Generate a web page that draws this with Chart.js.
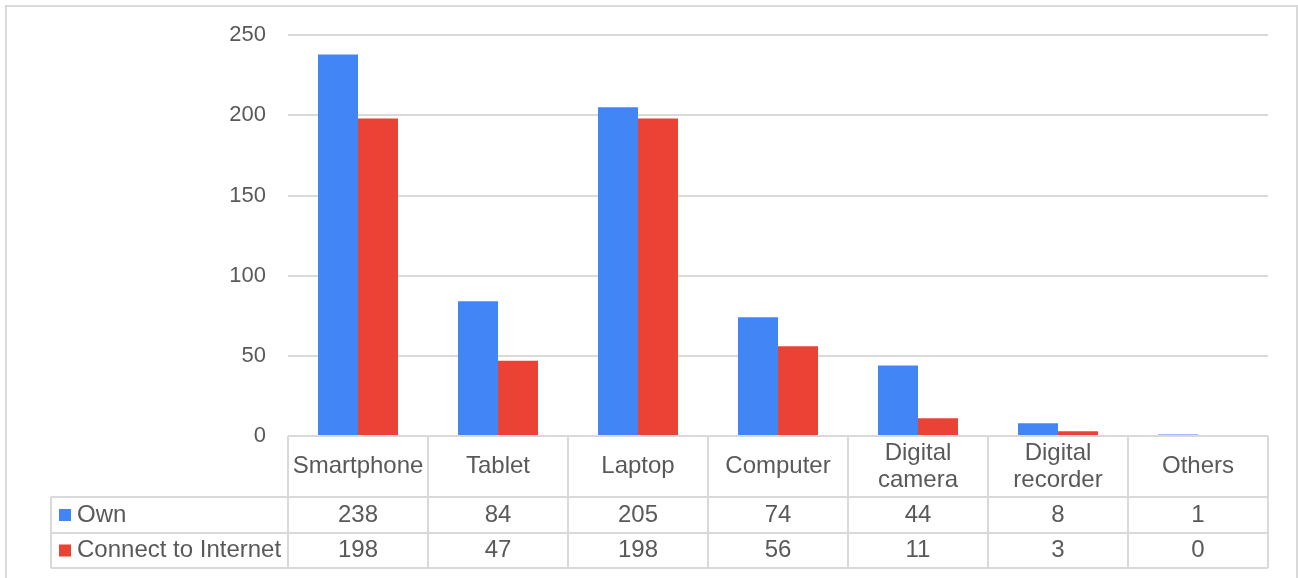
<!DOCTYPE html>
<html>
<head>
<meta charset="utf-8">
<script src="https://cdn.jsdelivr.net/npm/chart.js@4.4.1/dist/chart.umd.min.js"></script>
<style>
  html, body { margin: 0; padding: 0; background: #fff; }
  #grafico { display: block; }
</style>
</head>
<body>
<canvas id="grafico" width="1298" height="578"></canvas>
<script>
// Dados do gráfico
const categorias = ['Smartphone', 'Tablet', 'Laptop', 'Computer', 'Digital camera', 'Digital recorder', 'Others'];
const cabecalhos = [['Smartphone'], ['Tablet'], ['Laptop'], ['Computer'], ['Digital', 'camera'], ['Digital', 'recorder'], ['Others']];
const valoresOwn = [238, 84, 205, 74, 44, 8, 1];
const valoresInternet = [198, 47, 198, 56, 11, 3, 0];
const nomesSeries = ['Own', 'Connect to Internet'];
const coresSeries = ['#4285f4', '#ea4335'];
const eixoY = { min: 0, max: 250, passo: 50 };

const corTexto = '#595959';
const corLinha = '#d9d9d9';
const fonte = '"Liberation Sans", Arial, sans-serif';

// Moldura e tabela de dados abaixo do gráfico
const tabelaPlugin = {
  id: 'tabelaDados',
  beforeDraw(chart) {
    const ctx = chart.ctx;
    ctx.save();
    ctx.fillStyle = '#fff';
    ctx.fillRect(0, 0, chart.width, chart.height);
    ctx.strokeStyle = corLinha;
    ctx.lineWidth = 2;
    ctx.strokeRect(6, 6, 1291, chart.height + 20);
    ctx.restore();
  },
  afterDraw(chart) {
    const ctx = chart.ctx;
    const escalaX = chart.scales.x;
    const area = chart.chartArea;
    const largura = (area.right - area.left) / categorias.length;
    const topo = area.bottom;
    const linhas = [topo, topo + 61, topo + 97, topo + 132];
    const esquerda = 51;

    ctx.save();
    ctx.strokeStyle = corLinha;
    ctx.lineWidth = 2;

    // linhas horizontais
    ctx.beginPath();
    ctx.moveTo(area.left, linhas[0]);
    ctx.lineTo(area.right, linhas[0]);
    for (let i = 1; i < linhas.length; i++) {
      ctx.moveTo(esquerda, linhas[i]);
      ctx.lineTo(area.right, linhas[i]);
    }
    // linhas verticais
    ctx.moveTo(esquerda, linhas[1]);
    ctx.lineTo(esquerda, linhas[3]);
    for (let i = 0; i <= categorias.length; i++) {
      const x = escalaX.getPixelForValue(i) - largura / 2;
      ctx.moveTo(x, linhas[0]);
      ctx.lineTo(x, linhas[3]);
    }
    ctx.stroke();

    ctx.fillStyle = corTexto;
    ctx.font = '24px ' + fonte;
    ctx.textAlign = 'center';
    ctx.textBaseline = 'middle';

    // cabeçalhos das categorias
    const meioCab = (linhas[0] + linhas[1]) / 2;
    cabecalhos.forEach((partes, i) => {
      const x = escalaX.getPixelForValue(i);
      const y0 = meioCab - (partes.length - 1) * 27 / 2;
      partes.forEach((p, j) => ctx.fillText(p, x, y0 + j * 27));
    });

    // linhas de valores
    const series = [valoresOwn, valoresInternet];
    series.forEach((valores, s) => {
      const y = (linhas[s + 1] + linhas[s + 2]) / 2;
      ctx.fillStyle = coresSeries[s];
      ctx.fillRect(59, y - 6, 12, 12);
      ctx.fillStyle = corTexto;
      ctx.textAlign = 'left';
      ctx.fillText(nomesSeries[s], 77, y);
      ctx.textAlign = 'center';
      valores.forEach((v, i) => ctx.fillText(String(v), escalaX.getPixelForValue(i), y));
    });
    ctx.restore();
  }
};

new Chart(document.getElementById('grafico').getContext('2d'), {
  type: 'bar',
  data: {
    labels: categorias,
    datasets: [
      { label: nomesSeries[0], data: valoresOwn, backgroundColor: coresSeries[0] },
      { label: nomesSeries[1], data: valoresInternet, backgroundColor: coresSeries[1] }
    ]
  },
  options: {
    responsive: false,
    animation: false,
    layout: { padding: { top: 35, right: 30, bottom: 142, left: 0 } },
    datasets: {
      bar: { categoryPercentage: 80 / 140, barPercentage: 1 }
    },
    plugins: {
      legend: { display: false },
      tooltip: { enabled: false }
    },
    scales: {
      x: {
        afterFit(scale) { scale.height = 0; },
        ticks: { display: false },
        grid: { display: false },
        border: { display: false }
      },
      y: {
        min: eixoY.min,
        max: eixoY.max,
        afterFit(scale) { scale.width = 288; },
        ticks: {
          stepSize: eixoY.passo,
          padding: 22,
          color: corTexto,
          font: { family: fonte, size: 22 }
        },
        grid: { color: corLinha, lineWidth: 2, drawTicks: false },
        border: { display: false }
      }
    }
  },
  plugins: [tabelaPlugin]
});
</script>
</body>
</html>
